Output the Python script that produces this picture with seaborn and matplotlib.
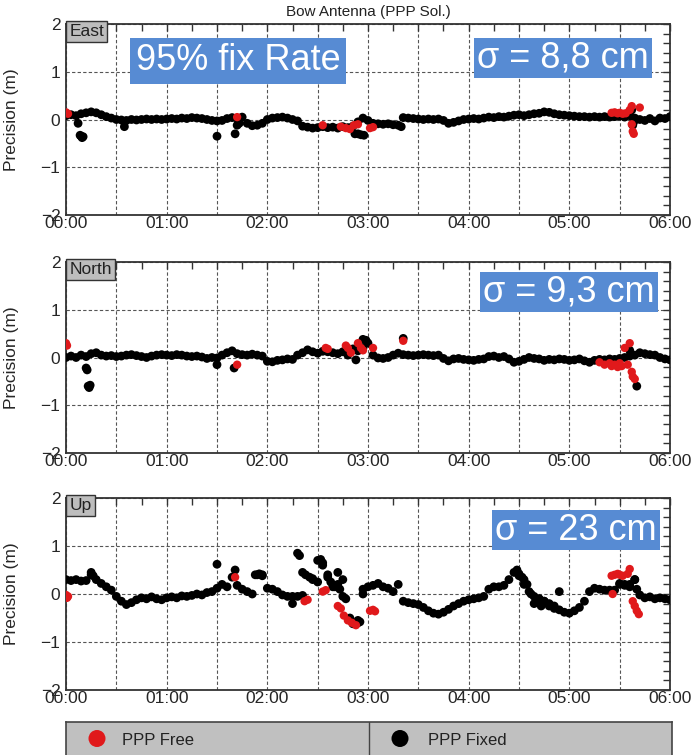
import numpy as np
import pandas as pd
import matplotlib
matplotlib.use("Agg")
import matplotlib.pyplot as plt
from matplotlib.ticker import MultipleLocator, FixedLocator, FixedFormatter
import seaborn as sns

# ---------------- data (values in metres, time in hours) ----------------
title = "Bow Antenna (PPP Sol.)"
panel_names = ["East", "North", "Up"]
sigma_labels = ["σ = 8,8 cm", "σ = 9,3 cm", "σ = 23 cm"]
fix_rate_label = "95% fix Rate"
xtick_labels = ["00:00", "", "01:00", "", "02:00", "", "03:00", "", "04:00", "", "05:00", "", "06:00"]
ytick_labels = ["\u22122", "\u22121", "0", "1", "2"]
legend_labels = ["PPP Free", "PPP Fixed"]

# main PPP-fixed track, one value every 3 minutes (20 values per hour)
east_fixed = [
    0.08, 0.10, 0.08, 0.12, 0.14, 0.16, 0.14, 0.10, 0.06, 0.03, 0.00, -0.01, -0.02, 0.00, -0.01, 0.00, 0.01, 0.00, 0.01, 0.00,
    0.01, 0.02, 0.01, 0.03, 0.02, 0.04, 0.03, 0.02, 0.00, -0.02, -0.03, -0.02, 0.02, 0.04, 0.02, 0.05, -0.08, -0.13, -0.12, -0.08,
    0.00, 0.03, 0.04, 0.05, 0.03, 0.00, -0.03, -0.14, -0.16, -0.18, -0.17, -0.15, -0.17, -0.16, -0.18, -0.15, -0.17, -0.14, -0.05, 0.03,
    -0.02, -0.08, -0.09, -0.10, -0.09, -0.11, -0.12, 0.04, 0.03, 0.02, 0.01, 0.00, 0.01, 0.00, 0.01, -0.02, -0.08, -0.06, -0.03, 0.00,
    0.01, 0.02, 0.01, 0.03, 0.05, 0.04, 0.06, 0.05, 0.07, 0.09, 0.10, 0.08, 0.10, 0.12, 0.13, 0.16, 0.15, 0.12, 0.10, 0.09,
    0.08, 0.07, 0.06, 0.06, 0.05, 0.06, 0.05, 0.06, 0.05, 0.06, 0.07, 0.05, 0.08, 0.03, 0.00, -0.02, 0.02, -0.03, 0.03, 0.02,
    0.06,
]
north_fixed = [
    0.00, 0.03, 0.00, 0.05, 0.02, 0.08, 0.10, 0.05, 0.03, 0.04, 0.02, 0.03, 0.05, 0.06, 0.04, 0.02, 0.00, 0.03, 0.05, 0.06,
    0.05, 0.04, 0.06, 0.05, 0.03, 0.02, 0.03, 0.01, -0.02, 0.00, -0.01, 0.05, 0.10, 0.14, 0.08, 0.06, 0.05, 0.07, 0.05, 0.03,
    -0.08, -0.09, -0.06, -0.05, -0.03, -0.04, 0.05, 0.10, 0.16, 0.12, 0.09, 0.13, 0.12, 0.10, 0.08, 0.12, 0.05, 0.18, 0.14, 0.20,
    0.30, 0.05, -0.01, -0.02, 0.00, 0.05, 0.09, 0.06, 0.05, 0.04, 0.05, 0.06, 0.05, 0.04, 0.05, -0.02, -0.07, -0.03, -0.02, -0.04,
    -0.05, -0.06, -0.04, -0.03, 0.02, 0.03, 0.00, 0.02, -0.03, -0.10, -0.08, -0.04, 0.00, -0.02, -0.03, -0.06, -0.04, -0.05, -0.03, -0.04,
    -0.06, -0.05, -0.03, -0.07, -0.10, -0.06, -0.04, -0.05, -0.03, -0.04, -0.02, 0.00, 0.03, 0.05, 0.10, 0.08, 0.06, 0.05, 0.00, -0.03,
    -0.05,
]
nan = float("nan")
up_fixed = [
    0.30, 0.28, 0.30, 0.27, 0.28, 0.40, 0.30, 0.22, 0.15, 0.08, -0.05, -0.15, -0.22, -0.18, -0.12, -0.08, -0.10, -0.06, -0.10, -0.12,
    -0.08, -0.06, -0.08, -0.04, -0.05, -0.03, 0.00, -0.02, 0.03, 0.05, 0.12, 0.20, 0.15, 0.35, 0.18, 0.10, 0.05, 0.00, 0.40, 0.38,
    0.12, 0.10, 0.05, -0.02, -0.05, -0.05, -0.05, -0.03, nan, 0.30, 0.25, 0.65, 0.35, 0.15, 0.20, 0.30, nan, -0.62, -0.60, 0.10,
    0.15, 0.18, 0.22, 0.15, 0.12, 0.05, 0.20, -0.15, -0.18, -0.20, -0.22, -0.28, -0.35, -0.40, -0.42, -0.38, -0.32, -0.25, -0.20, -0.15,
    -0.12, -0.10, -0.08, -0.05, 0.10, 0.15, 0.15, 0.18, 0.30, 0.45, 0.38, 0.20, 0.05, -0.05, -0.10, -0.15, -0.20, -0.25, -0.33, -0.38,
    -0.40, -0.35, -0.28, -0.15, 0.05, 0.12, 0.10, 0.08, 0.08, nan, 0.20, 0.18, 0.20, 0.30, -0.02, -0.08, -0.06, -0.10, -0.08, -0.10,
    -0.12,
]

# isolated PPP-fixed points (time h, value m)
east_fixed_extra_t = [0.12, 0.14, 0.15, 0.16, 0.17, 0.58, 1.50, 1.68, 1.70, 1.72, 2.87, 2.90, 2.93, 2.96, 3.33, 5.62, 5.63, 5.64]
east_fixed_extra_v = [-0.08, -0.33, -0.35, -0.38, -0.36, -0.15, -0.35, -0.30, -0.12, -0.08, -0.30, -0.30, -0.32, -0.33, -0.15, 0.20, -0.12, -0.05]
north_fixed_extra_t = [0.20, 0.21, 0.22, 0.23, 0.24, 1.50, 1.67, 2.88, 2.95, 2.98, 3.35, 5.60, 5.67]
north_fixed_extra_v = [-0.22, -0.26, -0.60, -0.63, -0.58, -0.15, -0.22, -0.05, 0.38, 0.36, 0.40, 0.15, -0.60]
up_fixed_extra_t = [0.25, 0.27, 1.50, 1.68, 1.88, 1.92, 1.95, 2.25, 2.30, 2.32, 2.35, 2.38, 2.42, 2.45, 2.50, 2.53, 2.55, 2.60,
                    2.63, 2.67, 2.70, 2.72, 2.75, 2.78, 2.82, 2.90, 2.92, 2.95, 4.48, 4.50, 4.53, 4.55, 4.58, 4.62, 4.65, 4.70,
                    4.72, 4.75, 4.80, 4.85, 4.90, 5.45, 5.50, 5.55, 5.60, 5.65, 5.67]
up_fixed_extra_v = [0.45, 0.38, 0.62, 0.50, 0.40, 0.42, 0.40, -0.20, 0.85, 0.80, 0.45, 0.40, 0.35, 0.32, 0.70, 0.72, 0.60, 0.40,
                    0.25, 0.15, 0.45, 0.10, -0.05, -0.10, -0.50, -0.55, -0.58, 0.00, 0.50, 0.42, 0.35, 0.30, 0.20, 0.00, -0.20, -0.10,
                    -0.25, -0.15, -0.25, -0.30, 0.05, 0.08, 0.22, 0.20, 0.15, 0.30, 0.10]

# PPP-float (free) points
east_free_t = [0.00, 0.02, 1.70, 2.55, 2.73, 2.78, 2.82, 2.86, 2.90, 3.02, 3.05, 5.42, 5.45, 5.48, 5.50, 5.53, 5.56, 5.60,
               5.62, 5.62, 5.63, 5.64, 5.70]
east_free_v = [0.15, 0.12, 0.05, -0.12, -0.15, -0.18, -0.20, -0.12, -0.10, -0.18, -0.16, 0.14, 0.15, 0.13, 0.14, 0.12, 0.13, 0.20,
               0.28, -0.10, -0.25, -0.30, 0.25]
north_free_t = [0.00, 0.01, 1.70, 2.58, 2.60, 2.78, 2.80, 2.83, 2.90, 2.93, 2.95, 3.05, 3.35, 5.30, 5.35, 5.40, 5.42, 5.45,
                5.48, 5.50, 5.52, 5.55, 5.58, 5.60, 5.62, 5.63, 5.65]
north_free_v = [0.30, 0.25, -0.15, 0.20, 0.18, 0.25, 0.20, 0.10, 0.30, 0.20, 0.15, 0.20, 0.35, -0.10, -0.15, -0.12, -0.18, -0.15,
                -0.20, -0.12, -0.18, 0.20, -0.15, 0.30, -0.30, -0.40, -0.45]
up_free_t = [0.00, 0.01, 0.02, 1.68, 2.37, 2.40, 2.55, 2.58, 2.70, 2.73, 2.76, 2.80, 2.84, 2.88, 3.02, 3.05, 3.07, 5.42,
             5.43, 5.45, 5.48, 5.50, 5.53, 5.58, 5.60, 5.63, 5.65, 5.67, 5.69]
up_free_v = [-0.02, -0.08, -0.05, 0.35, -0.15, -0.12, 0.05, 0.08, -0.25, -0.30, -0.45, -0.55, -0.60, -0.65, -0.35, -0.33, -0.36, 0.38,
             0.00, 0.40, 0.42, 0.40, 0.38, 0.42, 0.52, -0.15, -0.25, -0.35, -0.42]

# ---------------- styling ----------------
sns.set_theme(style="white")
plt.rcParams["font.family"] = ["Liberation Sans", "DejaVu Sans"]
plt.rcParams["axes.unicode_minus"] = True

W, H = 695, 755
fig = plt.figure(figsize=(W / 100, H / 100), dpi=100)

BLUE = "#578bd3"
RED = "#e0191b"


def fx(px):
    return px / W


def fy(py):
    return 1 - py / H


panel_px = [(24, 215), (262, 453), (498, 690)]  # top, bottom pixel rows
left_px, right_px = 66, 670

fixed_series = [east_fixed, north_fixed, up_fixed]
extra_series = [(east_fixed_extra_t, east_fixed_extra_v), (north_fixed_extra_t, north_fixed_extra_v),
                (up_fixed_extra_t, up_fixed_extra_v)]
free_series = [(east_free_t, east_free_v), (north_free_t, north_free_v), (up_free_t, up_free_v)]
sigma_centres = [(563, 58), (569, 292), (576, 530)]

for i, name in enumerate(panel_names):
    top, bot = panel_px[i]
    ax = fig.add_axes([fx(left_px), fy(bot), fx(right_px - left_px), (bot - top) / H])
    vals = fixed_series[i]
    t = np.linspace(0, 6, len(vals))
    df_fix = pd.DataFrame({"t": np.concatenate([t, extra_series[i][0]]),
                           "v": np.concatenate([vals, extra_series[i][1]])}).dropna()
    df_free = pd.DataFrame({"t": free_series[i][0], "v": free_series[i][1]})

    sns.scatterplot(data=df_fix, x="t", y="v", color="black", s=40, edgecolor="none", ax=ax, zorder=3, legend=False)
    sns.scatterplot(data=df_free, x="t", y="v", color=RED, s=36, edgecolor="none", ax=ax, zorder=4, legend=False)

    ax.set_xlim(0, 6)
    ax.set_ylim(-2, 2)
    ax.xaxis.set_major_locator(FixedLocator(np.arange(0, 6.01, 0.5)))
    ax.xaxis.set_major_formatter(FixedFormatter(xtick_labels))
    ax.xaxis.set_minor_locator(MultipleLocator(0.25))
    ax.yaxis.set_major_locator(FixedLocator([-2, -1, 0, 1, 2]))
    ax.yaxis.set_major_formatter(FixedFormatter(ytick_labels))
    ax.yaxis.set_minor_locator(MultipleLocator(0.2))
    ax.tick_params(which="both", direction="in", top=True, right=True, color="#333333", width=1)
    ax.tick_params(which="major", length=5)
    ax.tick_params(which="minor", length=5)
    ax.tick_params(axis="x", which="major", labelsize=12.5, pad=1)
    ax.tick_params(axis="y", which="major", labelsize=12.5, pad=4)
    ax.grid(True, which="major", linestyle=(0, (3, 2)), color="#555555", linewidth=0.8)
    ax.set_axisbelow(True)
    for sp in ax.spines.values():
        sp.set_color("#333333")
        sp.set_linewidth(1.3)
    ax.set_xlabel("")
    ax.set_ylabel("Precision (m)", fontsize=12.5)
    ax.yaxis.set_label_coords(-0.078, 0.5)

    ax.text(0.006, 0.962, name, transform=ax.transAxes, ha="left", va="center", fontsize=12.5, color="#222222",
            bbox=dict(boxstyle="square,pad=0.18", fc="#bdbdbd", ec="#333333", lw=1.0), zorder=6)

    cx, cy = sigma_centres[i]
    fig.text(fx(cx), fy(cy), sigma_labels[i], ha="center", va="center", fontsize=26, color="white",
             bbox=dict(boxstyle="square,pad=0.08", fc=BLUE, ec="none"), zorder=10)

fig.text(fx(238), fy(61), fix_rate_label, ha="center", va="center", fontsize=26, color="white",
         bbox=dict(boxstyle="square,pad=0.15", fc=BLUE, ec="none"), zorder=10)

fig.text(fx(368), fy(12), title, ha="center", va="center", fontsize=11, color="#222222")

# legend bar
lax = fig.add_axes([fx(66), 0, fx(672 - 66), 33 / H])
lax.set_facecolor("#c0c0c0")
lax.set_xlim(0, 1)
lax.set_ylim(0, 1)
lax.set_xticks([])
lax.set_yticks([])
for k, sp in lax.spines.items():
    sp.set_color("#444444")
    sp.set_linewidth(1.2)
lax.spines["bottom"].set_visible(False)
lax.axvline((369 - 66) / (672 - 66), color="#444444", lw=1.0)
lax.scatter([(97 - 66) / (672 - 66)], [0.5], s=150, color=RED, edgecolor="none", clip_on=False)
lax.scatter([(400 - 66) / (672 - 66)], [0.5], s=150, color="black", edgecolor="none", clip_on=False)
lax.text((122 - 66) / (672 - 66), 0.45, legend_labels[0], va="center", ha="left", fontsize=12, color="#222222")
lax.text((428 - 66) / (672 - 66), 0.45, legend_labels[1], va="center", ha="left", fontsize=12, color="#222222")

fig.savefig("out.png", dpi=100)
